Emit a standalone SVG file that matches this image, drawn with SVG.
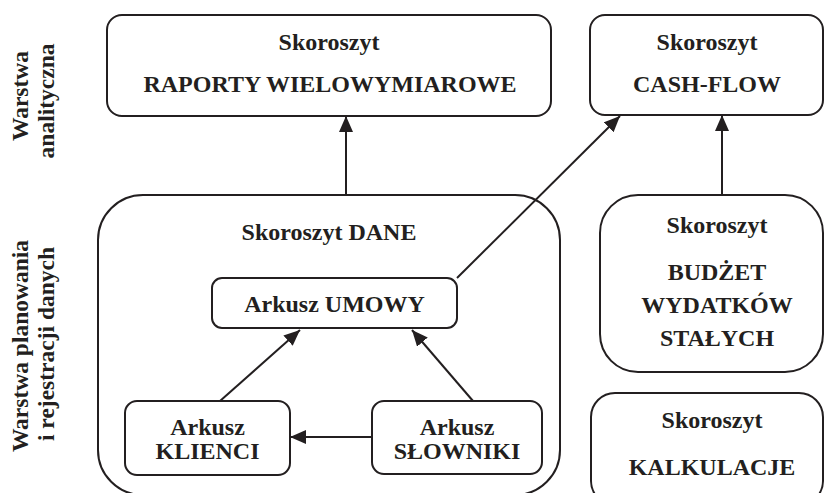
<svg xmlns="http://www.w3.org/2000/svg" width="826" height="493" viewBox="0 0 826 493">
<style>
.box{fill:#fff;stroke:#231f20;stroke-width:2}
.t{font-family:"Liberation Serif","Times New Roman",serif;font-weight:bold;font-size:24px;fill:#231f20;text-anchor:middle}
.side{font-family:"Liberation Serif","Times New Roman",serif;font-weight:bold;font-size:23.5px;fill:#231f20;text-anchor:middle}
.c{stroke:#231f20;stroke-width:2;fill:none;marker-end:url(#ah)}
</style>
<defs>
<marker id="ah" markerWidth="16" markerHeight="14" refX="16" refY="7" orient="auto" markerUnits="userSpaceOnUse">
<path d="M0,0 L16,7 L0,14 Z" fill="#231f20"/>
</marker>
</defs>
<rect width="826" height="493" fill="#fff"/>
<g id="labels">
<text class="side" transform="translate(28,96) rotate(-90)">Warstwa</text>
<text class="side" transform="translate(54,101) rotate(-90)">analityczna</text>
<text class="side" transform="translate(28,346) rotate(-90)">Warstwa planowania</text>
<text class="side" transform="translate(54,344) rotate(-90)">i rejestracji danych</text>
</g>
<g id="raporty">
<rect class="box" x="107" y="15" width="444" height="101" rx="15"/>
<text class="t" x="329" y="50">Skoroszyt</text>
<text class="t" x="330" y="92">RAPORTY WIELOWYMIAROWE</text>
</g>
<g id="cashflow">
<rect class="box" x="590" y="15" width="233" height="100" rx="15"/>
<text class="t" x="707" y="50">Skoroszyt</text>
<text class="t" x="707" y="92">CASH-FLOW</text>
</g>
<g id="dane">
<rect class="box" x="98" y="195" width="462" height="300" rx="45"/>
<text class="t" x="329" y="240">Skoroszyt DANE</text>
</g>
<g id="umowy">
<rect class="box" x="212" y="278" width="245" height="50" rx="10"/>
<text class="t" x="334.5" y="312">Arkusz UMOWY</text>
</g>
<g id="klienci">
<rect class="box" x="125" y="401" width="165" height="74" rx="12"/>
<text class="t" x="207.5" y="435">Arkusz</text>
<text class="t" x="207.5" y="459">KLIENCI</text>
</g>
<g id="slowniki">
<rect class="box" x="372" y="401" width="170" height="73" rx="12"/>
<text class="t" x="457" y="435">Arkusz</text>
<text class="t" x="457" y="459">SŁOWNIKI</text>
</g>
<g id="budzet">
<rect class="box" x="600" y="195" width="223" height="177" rx="38"/>
<text class="t" x="717" y="233">Skoroszyt</text>
<text class="t" x="717" y="280">BUDŻET</text>
<text class="t" x="717" y="313">WYDATKÓW</text>
<text class="t" x="717" y="346">STAŁYCH</text>
</g>
<g id="kalkulacje">
<rect class="box" x="591" y="393" width="232" height="112" rx="24"/>
<text class="t" x="712" y="428">Skoroszyt</text>
<text class="t" x="712" y="475">KALKULACJE</text>
</g>
<g id="connectors">
<line class="c" x1="346" y1="195" x2="346" y2="116"/>
<line class="c" x1="722" y1="195" x2="722" y2="115"/>
<line class="c" x1="457" y1="278" x2="620" y2="116"/>
<line class="c" x1="220" y1="401" x2="300" y2="330"/>
<line class="c" x1="473" y1="401" x2="412" y2="330"/>
<line class="c" x1="372" y1="437" x2="290" y2="437"/>
</g>
</svg>
